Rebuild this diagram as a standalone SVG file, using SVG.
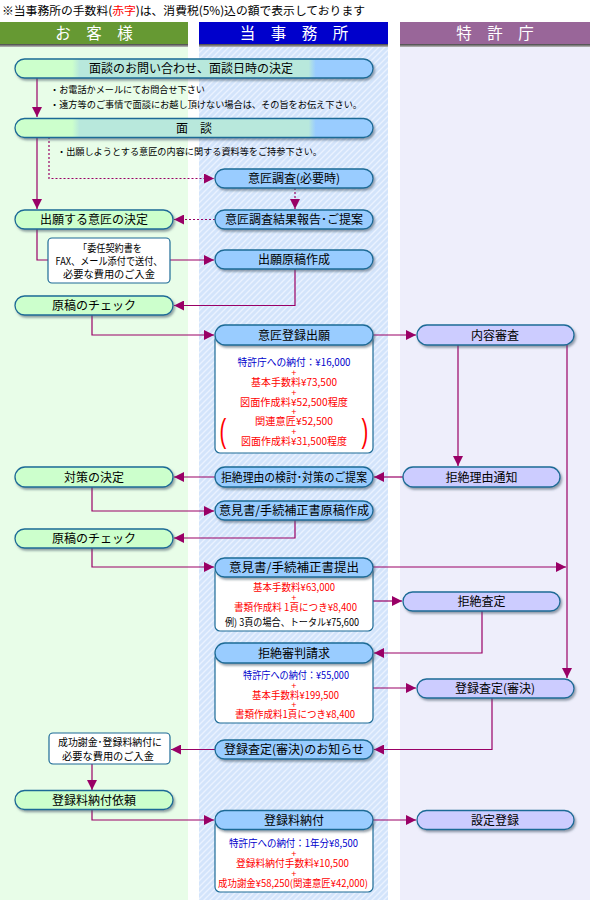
<svg xmlns="http://www.w3.org/2000/svg" width="590" height="900" viewBox="0 0 590 900">
<style>
text{font-family:"Noto Sans CJK JP","Noto Sans CJK SC",sans-serif;fill:#000}
.lbl{font-size:12px;text-anchor:middle}
.hd{font-size:15.5px;fill:#fff;text-anchor:middle}
.bul{font-size:9.5px}
.dt{font-size:10px;text-anchor:middle}
.pl{font-family:"Liberation Sans",sans-serif;font-size:9px;text-anchor:middle;fill:#ff0000}
.note{font-size:10.5px;text-anchor:middle}
.red{fill:#ff0000}
.blu{fill:#0000cc}
.bx{stroke:#1d6b96;stroke-width:1.3}
.g{fill:#ccffcc}
.b{fill:#99ccff}
.p{fill:#ccccff}
.w{fill:#ffffff;stroke:#1d6b96;stroke-width:1.2}
.c{fill:none;stroke:#990066;stroke-width:1.2}
.d{fill:none;stroke:#990066;stroke-width:1.2;stroke-dasharray:2 2}
</style>
<defs>
<marker id="ar" viewBox="0 0 10 10" refX="10" refY="5" markerWidth="10" markerHeight="10" markerUnits="userSpaceOnUse" orient="auto">
<path d="M0,0 L10,5 L0,10 z" fill="#990066"/>
</marker>
<filter id="sh" x="-10%" y="-30%" width="120%" height="180%">
<feDropShadow dx="1.5" dy="2" stdDeviation="0.8" flood-color="#445566" flood-opacity="0.55"/>
</filter>
<pattern id="st" patternUnits="userSpaceOnUse" width="6" height="6">
<rect width="6" height="6" fill="#d3e4fb"/>
<path d="M-1,7 L7,-1 M-1,1 L1,-1 M5,7 L7,5" stroke="#eaf2ff" stroke-width="1.4"/>
</pattern>
<linearGradient id="wide" x1="0" y1="0" x2="1" y2="0">
<stop offset="0" stop-color="#ccffcc"/>
<stop offset="0.16" stop-color="#ccffcc"/>
<stop offset="0.18" stop-color="#b8e8dc"/>
<stop offset="0.82" stop-color="#b8e8dc"/>
<stop offset="0.84" stop-color="#99ccff"/>
<stop offset="1" stop-color="#99ccff"/>
</linearGradient>
<linearGradient id="hs" x1="0" y1="0" x2="0" y2="1">
<stop offset="0" stop-color="#444"/>
<stop offset="1" stop-color="#bbb"/>
</linearGradient>
</defs>

<rect width="590" height="900" fill="#ffffff"/>
<!-- columns -->
<rect x="0" y="47" width="188" height="853" fill="#e8fde8"/>
<rect x="199" y="47" width="189" height="853" fill="url(#st)"/>
<rect x="400" y="47" width="190" height="853" fill="#eeeefb"/>

<!-- title -->
<text x="2" y="15" style="font-size:11.5px" textLength="363" lengthAdjust="spacingAndGlyphs">※当事務所の手数料(<tspan class="red">赤字</tspan>)は、消費税(5%)込の額で表示しております</text>

<!-- headers -->
<g id="hdr-client">
<rect x="0" y="22" width="188" height="22" fill="#669933"/>
<rect x="0" y="44" width="188" height="3" fill="url(#hs)"/>
<text class="hd" x="94" y="39">お　客　様</text>
</g>
<g id="hdr-office">
<rect x="199" y="22" width="189" height="22" fill="#0000cc"/>
<rect x="199" y="44" width="189" height="3" fill="url(#hs)"/>
<text class="hd" x="294" y="39">当　事　務　所</text>
</g>
<g id="hdr-jpo">
<rect x="400" y="22" width="190" height="22" fill="#996699"/>
<rect x="400" y="44" width="190" height="3" fill="url(#hs)"/>
<text class="hd" x="495" y="39">特　許　庁</text>
</g>

<!-- connectors -->
<g id="connectors">
<path class="c" d="M37,78 V117" marker-end="url(#ar)"/>
<path class="c" d="M37,137 V209" marker-end="url(#ar)"/>
<path class="d" d="M49,137 V178.5 H214" marker-end="url(#ar)"/>
<path class="d" d="M295,188 V209" marker-end="url(#ar)"/>
<path class="d" d="M215,219.5 H174" marker-end="url(#ar)"/>
<path class="c" d="M37,229 V260 H48"/>
<path class="c" d="M170,260 H214" marker-end="url(#ar)"/>
<path class="c" d="M295,269 V305.5 H174" marker-end="url(#ar)"/>
<path class="c" d="M92,315 V335 H214" marker-end="url(#ar)"/>
<path class="c" d="M373,335 H416" marker-end="url(#ar)"/>
<path class="c" d="M458,345 V466" marker-end="url(#ar)"/>
<path class="c" d="M567,345 V678" marker-end="url(#ar)"/>
<path class="c" d="M403,477 H374" marker-end="url(#ar)"/>
<path class="c" d="M215,477 H174" marker-end="url(#ar)"/>
<path class="c" d="M92,487 V511 H214" marker-end="url(#ar)"/>
<path class="c" d="M295,520 V538 H174" marker-end="url(#ar)"/>
<path class="c" d="M92,548 V567 H214" marker-end="url(#ar)"/>
<path class="c" d="M373,567 H566" marker-end="url(#ar)"/>
<path class="c" d="M373,601 H402" marker-end="url(#ar)"/>
<path class="c" d="M482,611 V653 H374" marker-end="url(#ar)"/>
<path class="c" d="M373,688 H416" marker-end="url(#ar)"/>
<path class="c" d="M492,698 V749.5 H374" marker-end="url(#ar)"/>
<path class="c" d="M215,749.5 H171" marker-end="url(#ar)"/>
<path class="c" d="M92,764 V790" marker-end="url(#ar)"/>
<path class="c" d="M92,809 V820 H214" marker-end="url(#ar)"/>
<path class="c" d="M373,820 H416" marker-end="url(#ar)"/>
</g>

<!-- notes -->
<text class="bul" x="50" y="93" textLength="155" lengthAdjust="spacingAndGlyphs">・お電話かメールにてお問合せ下さい</text>
<text class="bul" x="50" y="108" textLength="312" lengthAdjust="spacingAndGlyphs">・遠方等のご事情で面談にお越し頂けない場合は、その旨をお伝え下さい。</text>
<text class="bul" x="57" y="155" textLength="265" lengthAdjust="spacingAndGlyphs">・出願しようとする意匠の内容に関する資料等をご持参下さい。</text>

<!-- nodes -->
<g id="n-inquiry"><rect class="bx" x="15" y="59" width="358" height="19" rx="9.5" fill="url(#wide)" filter="url(#sh)"/><text class="lbl" x="191" y="73">面談のお問い合わせ、面談日時の決定</text></g>
<g id="n-meeting"><rect class="bx" x="15" y="118.5" width="358" height="19" rx="9.5" fill="url(#wide)" filter="url(#sh)"/><text class="lbl" x="194" y="132.5">面　談</text></g>

<g id="n-survey"><rect class="bx b" x="215" y="169" width="158" height="19" rx="9.5" filter="url(#sh)"/><text class="lbl" x="294" y="183">意匠調査(必要時)</text></g>
<g id="n-decide"><rect class="bx g" x="15" y="210" width="158" height="19" rx="9.5" filter="url(#sh)"/><text class="lbl" x="94" y="224">出願する意匠の決定</text></g>
<g id="n-report"><rect class="bx b" x="215" y="210" width="158" height="19" rx="9.5" filter="url(#sh)"/><text class="lbl" x="294" y="224">意匠調査結果報告･ご提案</text></g>
<g id="n-contract"><rect class="w" x="48" y="238" width="122" height="45" rx="4"/>
<text class="note" x="110" y="252" textLength="64" lengthAdjust="spacingAndGlyphs">「委任契約書を</text>
<text class="note" x="109" y="265" textLength="107" lengthAdjust="spacingAndGlyphs">FAX、メール添付で送付、</text>
<text class="note" x="109" y="278" textLength="92" lengthAdjust="spacingAndGlyphs">必要な費用のご入金</text></g>
<g id="n-draft"><rect class="bx b" x="215" y="250" width="158" height="19" rx="9.5" filter="url(#sh)"/><text class="lbl" x="294" y="264">出願原稿作成</text></g>
<g id="n-check1"><rect class="bx g" x="15" y="296" width="158" height="19" rx="9.5" filter="url(#sh)"/><text class="lbl" x="94" y="310">原稿のチェック</text></g>

<g id="n-filing">
<rect class="w" x="215" y="335" width="158" height="118" rx="5"/>
<rect class="bx b" x="215" y="325" width="158" height="20" rx="10" filter="url(#sh)"/>
<text class="lbl" x="294" y="339.5">意匠登録出願</text>
<text class="dt blu" x="294" y="366" textLength="113" lengthAdjust="spacingAndGlyphs">特許庁への納付：¥16,000</text>
<text class="pl" x="294" y="375.5">+</text>
<text class="dt red" x="294" y="386" textLength="86" lengthAdjust="spacingAndGlyphs">基本手数料¥73,500</text>
<text class="pl" x="294" y="395.5">+</text>
<text class="dt red" x="294" y="406" textLength="108" lengthAdjust="spacingAndGlyphs">図面作成料¥52,500程度</text>
<text class="pl" x="294" y="415">+</text>
<text class="dt red" x="294" y="425" textLength="78" lengthAdjust="spacingAndGlyphs">関連意匠¥52,500</text>
<text class="pl" x="294" y="434.5">+</text>
<text class="dt red" x="294" y="445" textLength="106" lengthAdjust="spacingAndGlyphs">図面作成料¥31,500程度</text>
<text class="red" x="223" y="442" style="font-family:'Liberation Sans',sans-serif;font-size:34px;text-anchor:middle" transform="translate(223 0) scale(0.6 1) translate(-223 0)">(</text>
<text class="red" x="365" y="442" style="font-family:'Liberation Sans',sans-serif;font-size:34px;text-anchor:middle" transform="translate(365 0) scale(0.6 1) translate(-365 0)">)</text>
</g>
<g id="n-exam"><rect class="bx p" x="417" y="325" width="157" height="20" rx="10" filter="url(#sh)"/><text class="lbl" x="495" y="339.5">内容審査</text></g>

<g id="n-measure"><rect class="bx g" x="15" y="467" width="158" height="20" rx="10" filter="url(#sh)"/><text class="lbl" x="94" y="481.5">対策の決定</text></g>
<g id="n-review"><rect class="bx b" x="215" y="467" width="158" height="20" rx="10" filter="url(#sh)"/><text class="lbl" x="294" y="481.5" textLength="146" lengthAdjust="spacingAndGlyphs">拒絶理由の検討･対策のご提案</text></g>
<g id="n-refusal"><rect class="bx p" x="403" y="467" width="157" height="20" rx="10" filter="url(#sh)"/><text class="lbl" x="481.5" y="481.5">拒絶理由通知</text></g>

<g id="n-opdraft"><rect class="bx b" x="215" y="501" width="158" height="19" rx="9.5" filter="url(#sh)"/><text class="lbl" x="294" y="515" textLength="150" lengthAdjust="spacingAndGlyphs">意見書/手続補正書原稿作成</text></g>
<g id="n-check2"><rect class="bx g" x="15" y="529" width="158" height="19" rx="9.5" filter="url(#sh)"/><text class="lbl" x="94" y="543">原稿のチェック</text></g>

<g id="n-opsubmit">
<rect class="w" x="215" y="567" width="158" height="64" rx="5"/>
<rect class="bx b" x="215" y="558" width="158" height="19" rx="9.5" filter="url(#sh)"/>
<text class="lbl" x="294" y="572" textLength="130" lengthAdjust="spacingAndGlyphs">意見書/手続補正書提出</text>
<text class="dt red" x="294" y="591" textLength="82" lengthAdjust="spacingAndGlyphs">基本手数料¥63,000</text>
<text class="pl" x="294" y="600.5">+</text>
<text class="dt red" x="295.5" y="611" textLength="123" lengthAdjust="spacingAndGlyphs">書類作成料 1頁につき¥8,400</text>
<text class="dt" x="292" y="626" textLength="134" lengthAdjust="spacingAndGlyphs">例) 3頁の場合、トータル¥75,600</text>
</g>
<g id="n-finalref"><rect class="bx p" x="403" y="592" width="157" height="19" rx="9.5" filter="url(#sh)"/><text class="lbl" x="481.5" y="606">拒絶査定</text></g>

<g id="n-appeal">
<rect class="w" x="215" y="653" width="158" height="70" rx="5"/>
<rect class="bx b" x="215" y="643" width="158" height="20" rx="10" filter="url(#sh)"/>
<text class="lbl" x="294" y="657.5">拒絶審判請求</text>
<text class="dt blu" x="296" y="679" textLength="106" lengthAdjust="spacingAndGlyphs">特許庁への納付：¥55,000</text>
<text class="pl" x="294" y="688.5">+</text>
<text class="dt red" x="295.5" y="699" textLength="87" lengthAdjust="spacingAndGlyphs">基本手数料¥199,500</text>
<text class="pl" x="294" y="708">+</text>
<text class="dt red" x="295" y="718" textLength="120" lengthAdjust="spacingAndGlyphs">書類作成料1頁につき¥8,400</text>
</g>
<g id="n-grant"><rect class="bx p" x="417" y="679" width="157" height="19" rx="9.5" filter="url(#sh)"/><text class="lbl" x="495" y="693">登録査定(審決)</text></g>

<g id="n-notice"><rect class="bx b" x="215" y="740" width="158" height="19" rx="9.5" filter="url(#sh)"/><text class="lbl" x="294" y="754">登録査定(審決)のお知らせ</text></g>
<g id="n-payment"><rect class="w" x="49" y="733" width="121" height="31" rx="4"/>
<text class="note" x="110" y="746" textLength="104" lengthAdjust="spacingAndGlyphs">成功謝金･登録料納付に</text>
<text class="note" x="108" y="760" textLength="92" lengthAdjust="spacingAndGlyphs">必要な費用のご入金</text></g>

<g id="n-request"><rect class="bx g" x="15" y="790.5" width="158" height="19" rx="9.5" filter="url(#sh)"/><text class="lbl" x="94" y="804.5">登録料納付依頼</text></g>

<g id="n-regfee">
<rect class="w" x="215" y="820" width="158" height="72" rx="5"/>
<rect class="bx b" x="215" y="810.5" width="158" height="19" rx="9.5" filter="url(#sh)"/>
<text class="lbl" x="294" y="824.5">登録料納付</text>
<text class="dt blu" x="293.5" y="847" textLength="129" lengthAdjust="spacingAndGlyphs">特許庁への納付：1年分¥8,500</text>
<text class="pl" x="294" y="856.5">+</text>
<text class="dt red" x="292.5" y="867" textLength="113" lengthAdjust="spacingAndGlyphs">登録料納付手数料¥10,500</text>
<text class="pl" x="294" y="876.5">+</text>
<text class="dt red" x="293" y="887" textLength="150" lengthAdjust="spacingAndGlyphs">成功謝金¥58,250(関連意匠¥42,000)</text>
</g>
<g id="n-setreg"><rect class="bx p" x="417" y="810.5" width="157" height="19" rx="9.5" filter="url(#sh)"/><text class="lbl" x="495" y="824.5">設定登録</text></g>
</svg>
